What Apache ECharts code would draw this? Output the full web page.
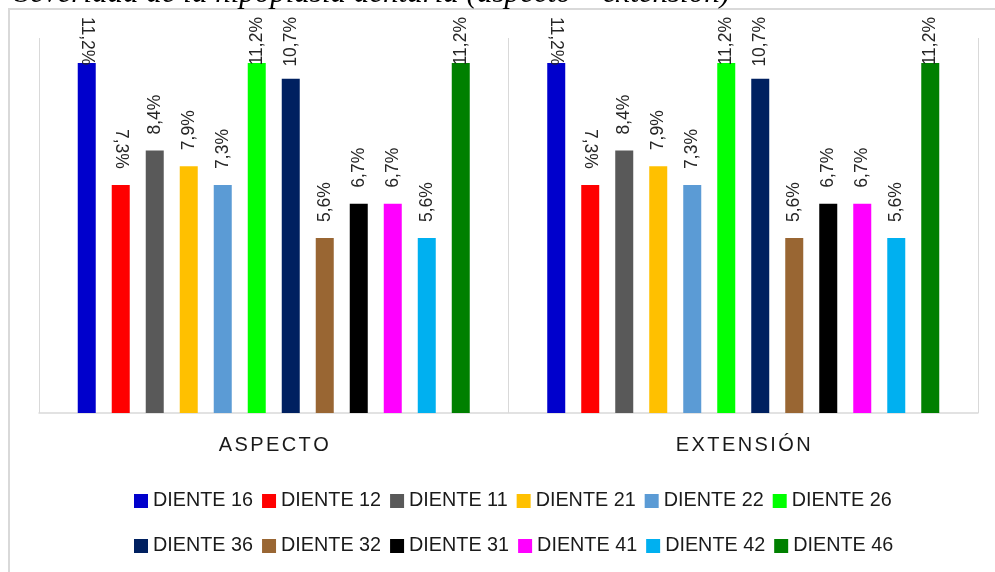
<!DOCTYPE html>
<html>
<head>
<meta charset="utf-8">
<script src="https://cdn.jsdelivr.net/npm/echarts@6/dist/echarts.min.js"></script>
<style>
html,body{margin:0;padding:0;background:#fff;}
#c{width:995px;height:572px;}
</style>
</head>
<body>
<div id="c"></div>
<script>
// ---- data ----
const titleText = 'Severidad de la hipoplasia dentaria (aspecto – extensión)';
const categories = ['ASPECTO', 'EXTENSIÓN'];
const seriesNames = ['DIENTE 16','DIENTE 12','DIENTE 11','DIENTE 21','DIENTE 22','DIENTE 26',
                     'DIENTE 36','DIENTE 32','DIENTE 31','DIENTE 41','DIENTE 42','DIENTE 46'];
const seriesColors = ['#0000CC','#FF0000','#595959','#FFC000','#5B9BD5','#00FF00',
                      '#002060','#996633','#000000','#FF00FF','#00B0F0','#008000'];
const aspectoValues   = [11.2, 7.3, 8.4, 7.9, 7.3, 11.2, 10.7, 5.6, 6.7, 6.7, 5.6, 11.2];
const extensionValues = [11.2, 7.3, 8.4, 7.9, 7.3, 11.2, 10.7, 5.6, 6.7, 6.7, 5.6, 11.2];
const downwardLabelSeries = ['DIENTE 16', 'DIENTE 12'];
const yMin = 0, yMax = 12;

const chart = echarts.init(document.getElementById('c'), null, {renderer: 'canvas'});

const labelFont = 'Liberation Sans';
const series = seriesNames.map((name, i) => {
  const down = downwardLabelSeries.indexOf(name) >= 0;
  return {
    name: name,
    type: 'bar',
    data: [aspectoValues[i], extensionValues[i]],
    barWidth: 18,
    barGap: '88.9%',
    itemStyle: {color: seriesColors[i]},
    label: {
      show: true,
      position: 'top',
      distance: 16,
      rotate: down ? -90 : 90,
      align: down ? 'right' : 'left',
      verticalAlign: 'middle',
      fontFamily: labelFont,
      fontSize: 17.5,
      color: '#262626',
      formatter: p => p.value.toFixed(1).replace('.', ',') + '%'
    },
    labelLayout: function (p) {
      const minTop = 17;
      if (p.labelRect.y < minTop) {
        const shift = minTop - p.labelRect.y;
        // offset is applied in the label's rotated frame
        return {dx: down ? shift : -shift};
      }
      return {};
    }
  };
});

const legendBase = {
  orient: 'horizontal',
  left: 134,
  itemWidth: 14,
  itemHeight: 14,
  itemGap: 9,
  icon: 'rect',
  padding: 0,
  selectedMode: false,
  textStyle: {fontFamily: labelFont, fontSize: 19.8, color: '#1a1a1a'}
};

const option = {
  animation: false,
  backgroundColor: '#ffffff',
  graphic: [
    {
      type: 'rect',
      silent: true,
      z: -10,
      shape: {x: 9, y: 9, width: 1000, height: 600},
      style: {fill: 'none', stroke: '#D9D9D9', lineWidth: 2}
    },
    {
      type: 'text',
      silent: true,
      z: 10,
      x: 730,
      y: -6,
      style: {
        text: titleText,
        font: 'italic 31px "Liberation Serif"',
        fill: '#000000',
        align: 'right',
        verticalAlign: 'middle'
      }
    }
  ],
  legend: [
    Object.assign({}, legendBase, {top: 491, data: seriesNames.slice(0, 6)}),
    Object.assign({}, legendBase, {top: 536, data: seriesNames.slice(6)})
  ],
  grid: {left: 39, right: 17, top: 38, bottom: 159, containLabel: false},
  xAxis: {
    type: 'category',
    data: categories,
    axisLine: {show: true, lineStyle: {color: '#D9D9D9', width: 1.5}},
    axisTick: {show: false},
    splitLine: {show: true, lineStyle: {color: '#D9D9D9', width: 1}},
    axisLabel: {
      margin: 22,
      formatter: v => v.split('').map(ch => '{l|' + ch + '}').join(''),
      rich: {
        l: {fontFamily: labelFont, fontSize: 20, color: '#1a1a1a', padding: [0, 1.2, 0, 1.2]}
      }
    }
  },
  yAxis: {
    type: 'value',
    min: yMin,
    max: yMax,
    show: false,
    splitLine: {show: false}
  },
  series: series
};

chart.setOption(option);
</script>
</body>
</html>
